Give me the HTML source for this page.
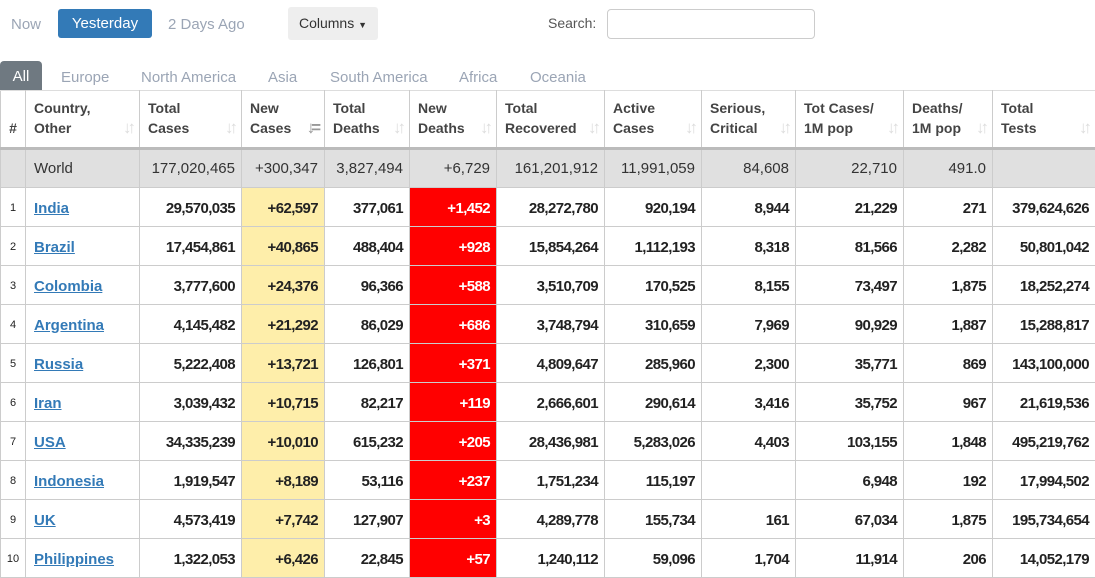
<!DOCTYPE html>
<html><head><meta charset="utf-8">
<style>
*{box-sizing:border-box;margin:0;padding:0}
body{width:1095px;height:574px;overflow:hidden;background:#fff;font-family:"Liberation Sans",Arial,sans-serif;position:relative;color:#333}
.a{position:absolute}
.lt{color:#9ba5b5;font-size:15px}
table{position:absolute;left:0;top:90px;border-collapse:collapse;table-layout:fixed;width:1095px}
td,th{border:1px solid #ccc;font-size:15px;letter-spacing:-0.6px;text-align:right;padding:0 6px;white-space:nowrap;overflow:hidden}
th{height:58px;font-size:14px;letter-spacing:0;text-align:left;color:#444;vertical-align:bottom;padding:0 8px 9px 8px;line-height:20px;position:relative;border-bottom:3px solid #bbb}
th .s{position:absolute;right:7px;bottom:9px;color:#ddd;font-size:17px;letter-spacing:-4px;font-weight:bold}
tr.w td{background:#e0e0e0;height:39px;font-weight:normal;color:#333;font-size:15px;letter-spacing:0}
tr.d td{height:39px;font-weight:bold;color:#222;padding-top:2px}
td:first-child{text-align:center;font-size:11px;letter-spacing:0;color:#666;font-weight:normal !important;padding:0}
tr td:nth-child(2){text-align:left;padding-left:8px;font-size:15px;letter-spacing:0}
tr.d td:nth-child(4){background:#feeeaa}
tr.d td:nth-child(6){background:#f00;color:#fff}
a{color:#337ab7;text-decoration:underline}
tr:first-child th{border-top:1px solid #ddd}
</style></head><body>
<div class="a lt" style="left:11px;top:16px">Now</div>
<div class="a" style="left:58px;top:9px;width:94px;height:29px;background:#337ab7;border-radius:3px;color:#fff;font-size:15px;text-align:center;line-height:30px">Yesterday</div>
<div class="a lt" style="left:168px;top:16px">2 Days Ago</div>
<div class="a" style="left:288px;top:7px;width:90px;height:33px;background:#eee;border-radius:3px;font-size:14px;text-align:center;line-height:32px;color:#333">Columns <span style="font-size:9px">▼</span></div>
<div class="a" style="left:548px;top:15px;font-size:14px;color:#555">Search:</div>
<div class="a" style="left:607px;top:9px;width:208px;height:30px;border:1px solid #ccc;border-radius:4px"></div>
<div class="a" style="left:0;top:61px;width:42px;height:30px;background:#6f7981;border-radius:4px 4px 0 0;color:#fff;font-size:15px;text-align:center;line-height:31px">All</div>
<div class="a lt" style="left:61px;top:69px">Europe</div>
<div class="a lt" style="left:141px;top:69px">North America</div>
<div class="a lt" style="left:268px;top:69px">Asia</div>
<div class="a lt" style="left:330px;top:69px">South America</div>
<div class="a lt" style="left:459px;top:69px">Africa</div>
<div class="a lt" style="left:530px;top:69px">Oceania</div>
<table>
<colgroup><col style="width:25px"><col style="width:114px"><col style="width:102px"><col style="width:83px"><col style="width:85px"><col style="width:87px"><col style="width:108px"><col style="width:97px"><col style="width:94px"><col style="width:108px"><col style="width:89px"><col style="width:103px"></colgroup>
<tr><th style="padding:0 0 9px 0;text-align:center">#</th><th>Country,<br>Other<span class="s">↓↑</span></th><th>Total<br>Cases<span class="s">↓↑</span></th><th>New<br>Cases<span class="s" style="color:#999">↓=</span></th><th>Total<br>Deaths<span class="s">↓↑</span></th><th>New<br>Deaths<span class="s">↓↑</span></th><th>Total<br>Recovered<span class="s">↓↑</span></th><th>Active<br>Cases<span class="s">↓↑</span></th><th>Serious,<br>Critical<span class="s">↓↑</span></th><th>Tot Cases/<br>1M pop<span class="s">↓↑</span></th><th>Deaths/<br>1M pop<span class="s">↓↑</span></th><th>Total<br>Tests<span class="s">↓↑</span></th></tr>
<tr class="w"><td></td><td>World</td><td>177,020,465</td><td>+300,347</td><td>3,827,494</td><td>+6,729</td><td>161,201,912</td><td>11,991,059</td><td>84,608</td><td>22,710</td><td>491.0</td><td></td></tr>
<tr class="d"><td>1</td><td><a>India</a></td><td>29,570,035</td><td>+62,597</td><td>377,061</td><td>+1,452</td><td>28,272,780</td><td>920,194</td><td>8,944</td><td>21,229</td><td>271</td><td>379,624,626</td></tr>
<tr class="d"><td>2</td><td><a>Brazil</a></td><td>17,454,861</td><td>+40,865</td><td>488,404</td><td>+928</td><td>15,854,264</td><td>1,112,193</td><td>8,318</td><td>81,566</td><td>2,282</td><td>50,801,042</td></tr>
<tr class="d"><td>3</td><td><a>Colombia</a></td><td>3,777,600</td><td>+24,376</td><td>96,366</td><td>+588</td><td>3,510,709</td><td>170,525</td><td>8,155</td><td>73,497</td><td>1,875</td><td>18,252,274</td></tr>
<tr class="d"><td>4</td><td><a>Argentina</a></td><td>4,145,482</td><td>+21,292</td><td>86,029</td><td>+686</td><td>3,748,794</td><td>310,659</td><td>7,969</td><td>90,929</td><td>1,887</td><td>15,288,817</td></tr>
<tr class="d"><td>5</td><td><a>Russia</a></td><td>5,222,408</td><td>+13,721</td><td>126,801</td><td>+371</td><td>4,809,647</td><td>285,960</td><td>2,300</td><td>35,771</td><td>869</td><td>143,100,000</td></tr>
<tr class="d"><td>6</td><td><a>Iran</a></td><td>3,039,432</td><td>+10,715</td><td>82,217</td><td>+119</td><td>2,666,601</td><td>290,614</td><td>3,416</td><td>35,752</td><td>967</td><td>21,619,536</td></tr>
<tr class="d"><td>7</td><td><a>USA</a></td><td>34,335,239</td><td>+10,010</td><td>615,232</td><td>+205</td><td>28,436,981</td><td>5,283,026</td><td>4,403</td><td>103,155</td><td>1,848</td><td>495,219,762</td></tr>
<tr class="d"><td>8</td><td><a>Indonesia</a></td><td>1,919,547</td><td>+8,189</td><td>53,116</td><td>+237</td><td>1,751,234</td><td>115,197</td><td></td><td>6,948</td><td>192</td><td>17,994,502</td></tr>
<tr class="d"><td>9</td><td><a>UK</a></td><td>4,573,419</td><td>+7,742</td><td>127,907</td><td>+3</td><td>4,289,778</td><td>155,734</td><td>161</td><td>67,034</td><td>1,875</td><td>195,734,654</td></tr>
<tr class="d"><td>10</td><td><a>Philippines</a></td><td>1,322,053</td><td>+6,426</td><td>22,845</td><td>+57</td><td>1,240,112</td><td>59,096</td><td>1,704</td><td>11,914</td><td>206</td><td>14,052,179</td></tr>
</table>
</body></html>
